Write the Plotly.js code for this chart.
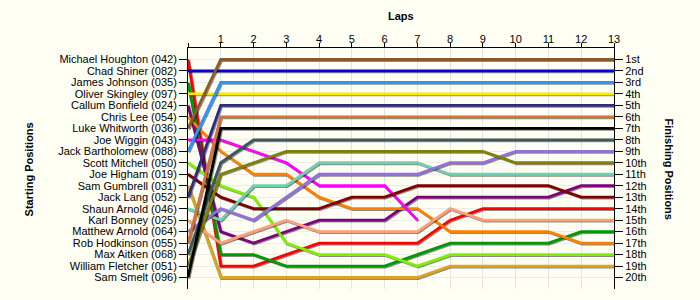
<!DOCTYPE html>
<html>
<head>
<meta charset="utf-8">
<script src="https://cdn.plot.ly/plotly-3.0.1.min.js"></script>
<style>
  html, body { margin: 0; padding: 0; background: #fffff4; }
  #chart { width: 700px; height: 300px; }
  /* soft drop shadow under every race line */
  .scatterlayer .trace path.js-line { filter: drop-shadow(1px 1px 0 rgba(0,0,0,0.45)); }
</style>
</head>
<body>
<div id="chart"></div>
<script>
// Lap numbers (0 = grid)
const laps = [0, 1, 2, 3, 4, 5, 6, 7, 8, 9, 10, 11, 12, 13];

// Drivers in starting-grid order
const drivers = [
  "Michael Houghton (042)", "Chad Shiner (082)", "James Johnson (035)",
  "Oliver Skingley (097)", "Callum Bonfield (024)", "Chris Lee (054)",
  "Luke Whitworth (036)", "Joe Wiggin (043)", "Jack Bartholomew (088)",
  "Scott Mitchell (050)", "Joe Higham (019)", "Sam Gumbrell (031)",
  "Jack Lang (052)", "Shaun Arnold (046)", "Karl Bonney (025)",
  "Matthew Arnold (064)", "Rob Hodkinson (055)", "Max Aitken (068)",
  "William Fletcher (051)", "Sam Smelt (096)"
];

// Running position of each driver at the end of every lap
const posHoughton  = [1, 19, 19, 18, 17, 17, 17, 17, 15, 14, 14, 14, 14, 14];
const posShiner    = [2, 2, 2, 2, 2, 2, 2, 2, 2, 2, 2, 2, 2, 2];
const posJohnson   = [3, 18, 18, 19, 19, 19, 19, 18, 17, 17, 17, 17, 16, 16];
const posSkingley  = [4, 4, 4, 4, 4, 4, 4, 4, 4, 4, 4, 4, 4, 4];
const posBonfield  = [5, 16, 17, 16, 15, 15, 15, 13, 13, 13, 13, 13, 12, 12];
const posLee       = [6, 9, 11, 11, 13, 14, 14, 14, 16, 16, 16, 16, 17, 17];
const posWhitworth = [7, 1, 1, 1, 1, 1, 1, 1, 1, 1, 1, 1, 1, 1];
const posWiggin    = [8, 8, 9, 10, 12, 12, 12, 15, null, null, null, null, null, null];
const posBarth     = [9, 3, 3, 3, 3, 3, 3, 3, 3, 3, 3, 3, 3, 3];
const posMitchell  = [10, 12, 13, 17, 18, 18, 18, 19, 18, 18, 18, 18, 18, 18];
const posHigham    = [11, 13, 14, 14, 14, 13, 13, 12, 12, 12, 12, 12, 13, 13];
const posGumbrell  = [12, 20, 20, 20, 20, 20, 20, 20, 19, 19, 19, 19, 19, 19];
const posLang      = [13, 5, 5, 5, 5, 5, 5, 5, 5, 5, 5, 5, 5, 5];
const posSArnold   = [14, 15, 12, 12, 10, 10, 10, 10, 11, 11, 11, 11, 11, 11];
const posBonney    = [15, 17, 16, 15, 16, 16, 16, 16, 14, 15, 15, 15, 15, 15];
const posMArnold   = [16, 14, 15, 13, 11, 11, 11, 11, 10, 10, 9, 9, 9, 9];
const posHodkinson = [17, 6, 6, 6, 6, 6, 6, 6, 6, 6, 6, 6, 6, 6];
const posAitken    = [18, 10, 8, 8, 8, 8, 8, 8, 8, 8, 8, 8, 8, 8];
const posFletcher  = [19, 11, 10, 9, 9, 9, 9, 9, 9, 9, 10, 10, 10, 10];
const posSmelt     = [20, 7, 7, 7, 7, 7, 7, 7, 7, 7, 7, 7, 7, 7];

const positions = [
  posHoughton, posShiner, posJohnson, posSkingley, posBonfield, posLee,
  posWhitworth, posWiggin, posBarth, posMitchell, posHigham, posGumbrell,
  posLang, posSArnold, posBonney, posMArnold, posHodkinson, posAitken,
  posFletcher, posSmelt
];

// Finishing-position tick labels
const finishLabels = [
  "1st", "2nd", "3rd", "4th", "5th", "6th", "7th", "8th", "9th", "10th",
  "11th", "12th", "13th", "14th", "15th", "16th", "17th", "18th", "19th", "20th"
];

// Line colour per driver (grid order)
const lineColors = [
  "#ff0000", "#0000d8", "#009a00", "#ffe800", "#800080", "#ff8000",
  "#8b5a2b", "#ff00ff", "#2a95ff", "#80f000", "#800000", "#daa520",
  "#2c2c80", "#70d0b0", "#ffa07a", "#9370db", "#d8703a", "#3a5858",
  "#808000", "#000000"
];

const grid = drivers.map((_, i) => i + 1);

const traces = drivers.map((name, i) => ({
  type: "scatter",
  mode: "lines",
  name: name,
  x: laps,
  y: positions[i],
  line: { color: lineColors[i], width: 2.8 },
  connectgaps: false,
  hoverinfo: "name+y"
}));

// companion trace that carries the finishing-position axis
traces.push({
  type: "scatter", mode: "lines", x: laps, y: posSmelt, yaxis: "y2",
  line: { width: 0 }, opacity: 0, hoverinfo: "skip", showlegend: false
});

const font = { family: "Liberation Sans, Arial, sans-serif", size: 11, color: "#000" };
const bold = { family: "Liberation Sans, Arial, sans-serif", size: 11, color: "#000", weight: "bold" };

const layout = {
  width: 700, height: 300,
  margin: { l: 188, r: 86, t: 48, b: 11 },
  paper_bgcolor: "#fffff4",
  plot_bgcolor: "#fffff4",
  showlegend: false,
  font: font,
  xaxis: {
    side: "top", range: [0, 13],
    tickvals: laps, ticktext: laps.map(l => l === 0 ? "" : String(l)),
    ticks: "outside", ticklen: 4, tickcolor: "#000", tickfont: font,
    ticklabelstandoff: -4,
    showline: true, linecolor: "#000", linewidth: 1,
    showgrid: true, gridcolor: "#e4e4e4", gridwidth: 1,
    zeroline: false, fixedrange: true
  },
  yaxis: {
    range: [21, 0],
    tickvals: grid, ticktext: drivers,
    ticks: "outside", ticklen: 8, tickcolor: "#000", tickfont: font,
    showline: true, linecolor: "#000", linewidth: 1,
    showgrid: true, gridcolor: "#ececec", gridwidth: 1,
    zeroline: false, fixedrange: true
  },
  yaxis2: {
    overlaying: "y", side: "right", range: [21, 0],
    tickvals: grid, ticktext: finishLabels,
    ticks: "outside", ticklen: 8, tickcolor: "#000", tickfont: font,
    showline: true, linecolor: "#000", linewidth: 1,
    showgrid: false, zeroline: false, fixedrange: true
  },
  annotations: [
    { text: "Laps", xref: "paper", yref: "paper", x: 0.5, y: 1.131,
      xanchor: "center", yanchor: "middle", showarrow: false, font: bold },
    { text: "Starting Positions", xref: "paper", yref: "paper", x: -0.371, y: 0.496,
      xanchor: "center", yanchor: "middle", textangle: -90, showarrow: false, font: bold },
    { text: "Finishing Positions", xref: "paper", yref: "paper", x: 1.129, y: 0.496,
      xanchor: "center", yanchor: "middle", textangle: 90, showarrow: false, font: bold }
  ]
};

Plotly.newPlot("chart", traces, layout, { displayModeBar: false, staticPlot: true });
</script>
</body>
</html>
